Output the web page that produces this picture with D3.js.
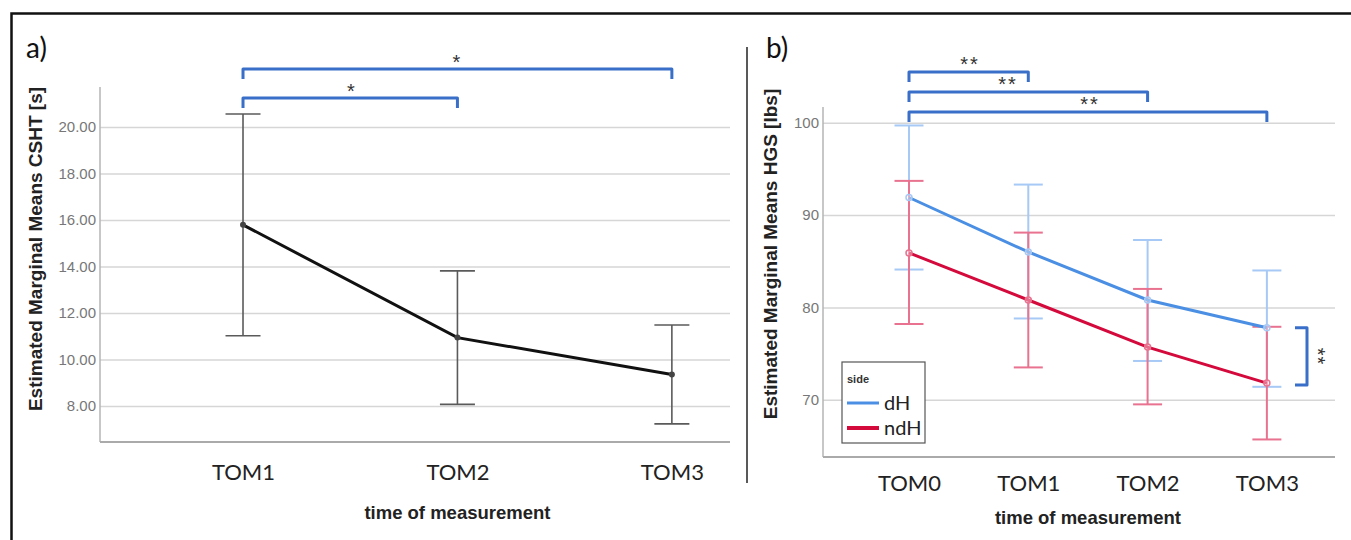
<!DOCTYPE html>
<html>
<head>
<meta charset="utf-8">
<script src="https://cdn.jsdelivr.net/npm/d3@7"></script>
<style>
  body { margin: 0; background: #fff; }
</style>
</head>
<body>
<div id="chart-area"></div>
<script>
/*
*    two panels: CSHT (a) and HGS (b)
*/

// panel a data
var catsA = ["TOM1", "TOM2", "TOM3"];
var meanA = [15.79, 10.94, 9.35];
var upperA = [20.56, 13.81, 11.48];
var lowerA = [11.02, 8.07, 7.23];
var ticksA = [8, 10, 12, 14, 16, 18, 20];
var pairsA = [["TOM1", "TOM2", "*"], ["TOM1", "TOM3", "*"]];

// panel b data
var catsB = ["TOM0", "TOM1", "TOM2", "TOM3"];
var sides = ["dH", "ndH"];
var meanDH = [91.9, 86.0, 80.8, 77.8];
var upperDH = [99.7, 93.3, 87.3, 84.0];
var lowerDH = [84.1, 78.8, 74.2, 71.4];
var meanNDH = [85.9, 80.8, 75.7, 71.8];
var upperNDH = [93.7, 88.1, 82.0, 77.9];
var lowerNDH = [78.2, 73.5, 69.5, 65.7];
var ticksB = [70, 80, 90, 100];
var pairsB = [["TOM0", "TOM1", "**"], ["TOM0", "TOM2", "**"], ["TOM0", "TOM3", "**"]];

var width = 1351;
var height = 540;
var labelFont = "Lato, 'Open Sans', sans-serif";
var arial = "'Liberation Sans', Arial, sans-serif";
var bracketColor = "#3a6fc9";

var svg = d3.select("#chart-area")
    .append("svg")
    .attr("width", width)
    .attr("height", height);

// outer frame and divider
svg.append("rect")
    .attr("x", 11.5).attr("y", 13.5)
    .attr("width", 1400).attr("height", 600)
    .attr("fill", "none")
    .attr("stroke", "#111")
    .attr("stroke-width", 2.5);

svg.append("line")
    .attr("x1", 747).attr("x2", 747)
    .attr("y1", 47).attr("y2", 483)
    .attr("stroke", "#222")
    .attr("stroke-width", 1.5);

function panelLetter(x, txt) {
    svg.append("text")
        .attr("x", x).attr("y", 58)
        .attr("font-family", labelFont)
        .attr("font-size", "28px")
        .attr("fill", "#111")
        .text(txt);
}
panelLetter(26, "a)");
panelLetter(766, "b)");

// draws grid, axis lines, tick labels, titles for one panel
function drawFrame(x, y, ticks, fmt, left, right, top, bottom, yTitle, yTitleX, yTitleMid, xLabelY, xTitleY) {
    var yAxis = d3.axisLeft(y)
        .tickValues(ticks)
        .tickSize(-(right - left))
        .tickPadding(4)
        .tickFormat(fmt);
    var gy = svg.append("g")
        .attr("class", "y axis")
        .attr("transform", "translate(" + left + ",0)")
        .call(yAxis);
    gy.select(".domain").remove();
    gy.selectAll(".tick line")
        .attr("stroke", "#d6d6d6")
        .attr("stroke-width", 1.5);
    gy.selectAll(".tick text")
        .style("font-family", arial)
        .attr("font-size", "15px")
        .attr("fill", "#777");

    // y axis line
    svg.append("line")
        .attr("x1", left).attr("x2", left)
        .attr("y1", top).attr("y2", bottom)
        .attr("stroke", "#b5b5b5")
        .attr("stroke-width", 1.5);
    // bottom axis line
    svg.append("line")
        .attr("x1", left).attr("x2", right)
        .attr("y1", bottom).attr("y2", bottom)
        .attr("stroke", "#aaa")
        .attr("stroke-width", 2);

    var xAxis = d3.axisBottom(x).tickSize(0).tickPadding(0);
    var gx = svg.append("g")
        .attr("class", "x axis")
        .attr("transform", "translate(0," + xLabelY + ")")
        .call(xAxis);
    gx.select(".domain").remove();
    gx.selectAll(".tick text")
        .attr("dy", "0")
        .attr("y", 0)
        .style("font-family", labelFont)
        .attr("font-size", "22px")
        .attr("fill", "#222");

    // x axis label, centred between first and last category
    var dom = x.domain();
    svg.append("text")
        .attr("x", (x(dom[0]) + x(dom[dom.length - 1])) / 2)
        .attr("y", xTitleY)
        .attr("text-anchor", "middle")
        .attr("font-family", arial)
        .attr("font-weight", "bold")
        .attr("font-size", "18.5px")
        .attr("fill", "#222")
        .text("time of measurement");

    // y axis label
    svg.append("text")
        .attr("x", -yTitleMid)
        .attr("y", yTitleX)
        .attr("text-anchor", "middle")
        .attr("transform", "rotate(-90)")
        .attr("font-family", arial)
        .attr("font-weight", "bold")
        .attr("font-size", "19px")
        .attr("fill", "#222")
        .text(yTitle);
}

function errorBars(x, y, cats, upper, lower, color, cap, sw) {
    var g = svg.append("g");
    cats.forEach(function(c, i) {
        g.append("line")
            .attr("x1", x(c)).attr("x2", x(c))
            .attr("y1", y(upper[i])).attr("y2", y(lower[i]))
            .attr("stroke", color).attr("stroke-width", sw);
        [upper[i], lower[i]].forEach(function(v) {
            g.append("line")
                .attr("x1", x(c) - cap).attr("x2", x(c) + cap)
                .attr("y1", y(v)).attr("y2", y(v))
                .attr("stroke", color).attr("stroke-width", sw);
        });
    });
}

function bracket(x1, x2, yb, drop, label, lx, ly) {
    svg.append("path")
        .attr("d", "M" + x1 + "," + (yb + drop) + "V" + yb + "H" + x2 + "V" + (yb + drop))
        .attr("fill", "none")
        .attr("stroke", bracketColor)
        .attr("stroke-width", 3)
        .attr("stroke-linejoin", "round");
    svg.append("text")
        .attr("x", lx).attr("y", ly + 3)
        .attr("text-anchor", "middle")
        .attr("font-family", arial)
        .attr("font-size", "20px")
        .attr("letter-spacing", "2px")
        .attr("fill", "#333")
        .text(label);
}

// ---------------- panel a ----------------
var xA = d3.scalePoint()
    .domain(catsA)
    .range([100, 730])
    .padding(0.469)
    .align(0.711);

var yA = d3.scaleLinear()
    .domain([6.45, 21.72])
    .range([442, 87]);

drawFrame(xA, yA, ticksA, d3.format(".2f"), 100, 730, 87, 442,
    "Estimated Marginal Means CSHT [s]", 42, 249, 480, 519);

errorBars(xA, yA, catsA, upperA, lowerA, "#5a5a5a", 17.5, 1.6);

var lineA = d3.line()
    .x(function(d, i) { return xA(catsA[i]); })
    .y(function(d) { return yA(d); });

svg.append("path")
    .datum(meanA)
    .attr("d", lineA)
    .attr("fill", "none")
    .attr("stroke", "#111")
    .attr("stroke-width", 3);

svg.selectAll(".ptA").data(meanA).enter()
    .append("circle")
    .attr("class", "ptA")
    .attr("cx", function(d, i) { return xA(catsA[i]); })
    .attr("cy", function(d) { return yA(d); })
    .attr("r", 3)
    .attr("fill", "#444");

// significance brackets a
var levelsA = [98, 69];
pairsA.forEach(function(p, i) {
    var a = xA(p[0]), b = xA(p[1]);
    var lx = i === 0 ? 352 : (a + b) / 2;
    bracket(a, b, levelsA[i], 10, p[2], lx, levelsA[i] - 3);
});

// ---------------- panel b ----------------
var xB = d3.scalePoint()
    .domain(catsB)
    .range([823, 1335])
    .padding(0.646)
    .align(0.558);

var yB = d3.scaleLinear()
    .domain([63.8, 101.7])
    .range([457, 107]);

drawFrame(xB, yB, ticksB, d3.format("d"), 823, 1335, 107, 457,
    "Estimated Marginal Means HGS [lbs]", 777, 254, 491, 524);

var color = d3.scaleOrdinal()
    .domain(sides)
    .range(["#4a8fe3", "#d40a3c"]);
var errColor = d3.scaleOrdinal()
    .domain(sides)
    .range(["#a6c9f5", "#e8728f"]);

errorBars(xB, yB, catsB, upperDH, lowerDH, errColor("dH"), 14.5, 2);
errorBars(xB, yB, catsB, upperNDH, lowerNDH, errColor("ndH"), 14.5, 2);

var lineB = d3.line()
    .x(function(d, i) { return xB(catsB[i]); })
    .y(function(d) { return yB(d); });

[["dH", meanDH], ["ndH", meanNDH]].forEach(function(s) {
    svg.append("path")
        .datum(s[1])
        .attr("d", lineB)
        .attr("fill", "none")
        .attr("stroke", color(s[0]))
        .attr("stroke-width", 3);
    svg.selectAll(".pt" + s[0]).data(s[1]).enter()
        .append("circle")
        .attr("class", "pt" + s[0])
        .attr("cx", function(d, i) { return xB(catsB[i]); })
        .attr("cy", function(d) { return yB(d); })
        .attr("r", 3)
        .attr("fill", "#fff")
        .attr("fill-opacity", 0.4)
        .attr("stroke", errColor(s[0]))
        .attr("stroke-width", 1.5);
});

// significance brackets b
var levelsB = [72, 92, 112];
var labelXB = [970, 1008, 1090];
var labelYB = [68, 88, 108];
pairsB.forEach(function(p, i) {
    bracket(xB(p[0]), xB(p[1]), levelsB[i], 10, p[2], labelXB[i], labelYB[i]);
});

// side bracket at TOM3 (dH vs ndH)
var yTop = yB(meanDH[3]), yBot = yB(meanNDH[3]) + 2;
svg.append("path")
    .attr("d", "M1295," + yTop + "H1307V" + yBot + "H1295")
    .attr("fill", "none")
    .attr("stroke", bracketColor)
    .attr("stroke-width", 3)
    .attr("stroke-linejoin", "round");
svg.append("text")
    .attr("transform", "translate(1311," + ((yTop + yBot) / 2) + ") rotate(90)")
    .attr("text-anchor", "middle")
    .attr("font-family", arial)
    .attr("font-size", "20px")
    .attr("letter-spacing", "1px")
    .attr("fill", "#333")
    .text("**");

// legend
var lg = svg.append("g").attr("transform", "translate(842,362)");
lg.append("rect")
    .attr("width", 83).attr("height", 81)
    .attr("fill", "#fff")
    .attr("stroke", "#555")
    .attr("stroke-width", 1.2);
lg.append("text")
    .attr("x", 5).attr("y", 21)
    .attr("font-family", arial)
    .attr("font-weight", "bold")
    .attr("font-size", "11px")
    .attr("fill", "#333")
    .text("side");
sides.forEach(function(s, i) {
    lg.append("line")
        .attr("x1", 5).attr("x2", 37)
        .attr("y1", 41 + i * 25).attr("y2", 41 + i * 25)
        .attr("stroke", color(s))
        .attr("stroke-width", i === 0 ? 3 : 4);
    lg.append("text")
        .attr("x", 42).attr("y", 48 + i * 25)
        .attr("font-family", labelFont)
        .attr("font-size", "20px")
        .attr("fill", "#222")
        .text(s);
});
</script>
</body>
</html>
